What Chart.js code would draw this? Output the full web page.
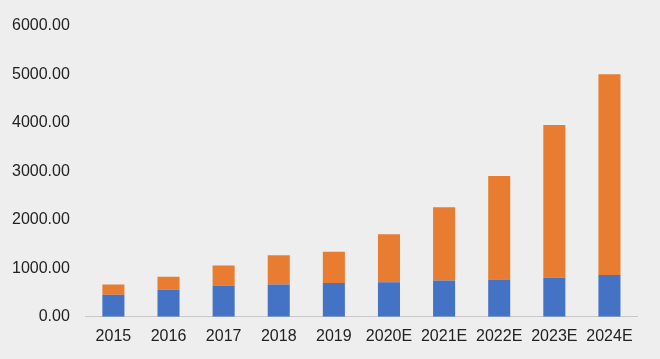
<!DOCTYPE html>
<html>
<head>
<meta charset="utf-8">
<script src="https://cdn.jsdelivr.net/npm/chart.js@4"></script>
<style>
html,body{margin:0;padding:0;background:#eeeeee;}
#c{display:block;}
</style>
</head>
<body>
<canvas id="c" width="660" height="359"></canvas>
<script>
const categories = ["2015","2016","2017","2018","2019","2020E","2021E","2022E","2023E","2024E"];
const seriesBlue = [454, 557, 645, 666, 695, 715, 749, 770, 804, 860];
const seriesOrange = [212, 268, 413, 606, 645, 990, 1513, 2137, 3155, 4144];
const yTicks = [0, 1000, 2000, 3000, 4000, 5000, 6000];

new Chart(document.getElementById('c'), {
  type: 'bar',
  data: {
    labels: categories,
    datasets: [
      {label: 'A', data: seriesBlue, backgroundColor: '#4472C4', barPercentage: 0.4, categoryPercentage: 1.0},
      {label: 'B', data: seriesOrange, backgroundColor: '#E87D31', barPercentage: 0.4, categoryPercentage: 1.0}
    ]
  },
  options: {
    responsive: false,
    animation: false,
    layout: {padding: {top: 26, right: 23, bottom: 11, left: 4}},
    plugins: {legend: {display: false}, tooltip: {enabled: false}},
    scales: {
      x: {
        stacked: true,
        grid: {display: false},
        border: {display: true, color: '#c8c8c8', width: 1},
        ticks: {color: '#222', font: {family: 'Liberation Sans, Arial, sans-serif', size: 16}, padding: 2, maxRotation: 0}
      },
      y: {
        stacked: true,
        min: 0, max: 6000,
        afterBuildTicks: (s) => { s.ticks = yTicks.map(v => ({value: v})); },
        grid: {display: false},
        border: {display: false},
        ticks: {color: '#222', font: {family: 'Liberation Sans, Arial, sans-serif', size: 16}, padding: 8,
          callback: (v) => Number(v).toFixed(2)}
      }
    }
  }
});
</script>
</body>
</html>
